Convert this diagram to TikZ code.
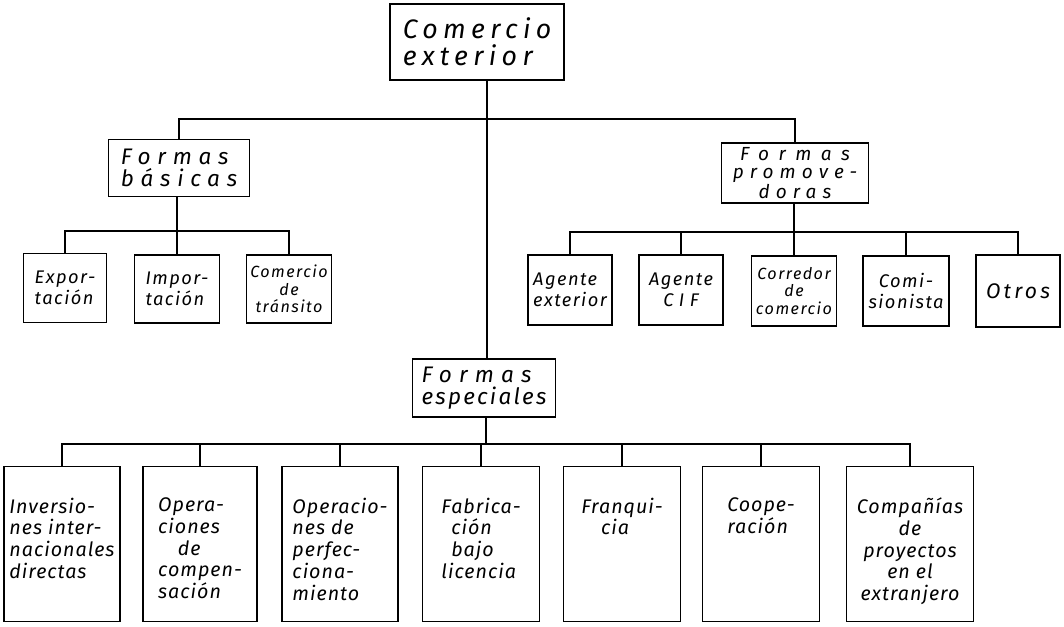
\documentclass[tikz,border=0pt]{standalone}
\usepackage{fontspec}
\setmainfont{Fira Sans}
\usetikzlibrary{positioning}

\tikzset{
  caja/.style 2 args={draw, minimum width=#1*0.025cm, minimum height=#2*0.025cm, inner sep=1pt},
  titulo/.style={font=\itshape\fontsize{19}{19}\selectfont\addfontfeature{LetterSpace=20}, align=left},
  forma/.style={font=\itshape\fontsize{16}{16}\selectfont\addfontfeature{LetterSpace=30}, align=left},
  chico/.style={font=\itshape\fontsize{13}{15}\selectfont\addfontfeature{LetterSpace=8}, align=center},
  menudo/.style={font=\itshape\fontsize{11.5}{12.5}\selectfont\addfontfeature{LetterSpace=9}, align=center},
  texto/.style={font=\itshape\fontsize{14}{15.5}\selectfont\addfontfeature{LetterSpace=5}, align=left, inner sep=0pt},
}

\begin{document}
\begin{tikzpicture}[x=0.025cm, y=-0.025cm, line width=1.1pt]
    \useasboundingbox (0,0) rectangle (1064,626);

    % comercio exterior y sus tres formas
    \node[caja={174}{76}, titulo] (comercio) at (477,42) {Comercio\\exterior};
    \node[caja={141}{57}, forma] (basicas) at (179,168) {Formas\\básicas};
    \node[caja={147}{60}, forma, font=\itshape\fontsize{13.5}{13}\selectfont\addfontfeature{LetterSpace=32}, align=center] (promov) at (795,173)
      {{\addfontfeature{LetterSpace=50}Formas}\\promove-\\doras};
    \node[caja={143}{58}, forma, font=\itshape\fontsize{16}{16}\selectfont\addfontfeature{LetterSpace=10}] (especiales) at (484,388)
      {{\addfontfeature{LetterSpace=32}Formas}\\especiales};

    % formas basicas
    \node[caja={83}{69}, chico, align=left] (export) at (65,288) {Expor-\\tación};
    \node[caja={85}{68}, chico, align=left] (import) at (177,289) {Impor-\\tación};
    \node[caja={85}{68}, menudo] (transito) at (289,289) {Comercio\\de\\tránsito};

    % formas promovedoras
    \node[caja={84}{70}, chico, align=left] (agext) at (570,290) {Agente\\exterior};
    \node[caja={84}{70}, chico] (agcif) at (681,290) {Agente\\{\addfontfeature{LetterSpace=30}CIF}};
    \node[caja={85}{70}, menudo] (corredor) at (794,291) {Corredor\\de\\comercio};
    \node[caja={86}{70}, chico] (comis) at (906,291) {Comi-\\sionista};
    \node[caja={84}{72}, chico, font=\itshape\fontsize{15}{15}\selectfont\addfontfeature{LetterSpace=15}] (otros) at (1018,291) {Otros};

    % formas especiales
    \foreach \n/\x/\w in {inversiones/62/116, compens/200/114, perfec/340/116, fabric/481/117,
                          franq/622/117, coop/761/117, compan/910/127}
      \node[caja={\w}{155}] (\n) at (\x,544) {};

    \node[texto, below=0.78cm of inversiones.north] (inversionestxt) {Inversio-\\nes inter-\\nacionales\\directas};
    \node[texto, below=0.78cm of compens.north] (compenstxt) {Opera-\\ciones\\\quad de\\compen-\\sación};
    \node[texto, below=0.78cm of perfec.north] (perfectxt) {Operacio-\\nes de\\perfec-\\ciona-\\miento};
    \node[texto, below=0.78cm of fabric.north] (fabrictxt) {Fabrica-\\\enspace ción\\\enspace bajo\\licencia};
    \node[texto, below=0.78cm of franq.north] (franqtxt) {Franqui-\\\quad cia};
    \node[texto, below=0.78cm of coop.north] (cooptxt) {Coope-\\ración};
    \node[texto, below=0.78cm of compan.north, align=center] (compantxt) {Compañías\\de\\proyectos\\en el\\extranjero};

    % conectores
    \coordinate (tronco) at (487,119);
    \draw (comercio.south -| tronco) -- (especiales.north -| tronco);
    \draw (basicas.north) |- (tronco) -| (promov.north);

    \coordinate (barra1) at (177,231);
    \draw (basicas.south -| barra1) -- (barra1);
    \foreach \n in {export,import,transito}
      \draw (\n.north) |- (barra1);

    \coordinate (barra2) at (794,232);
    \draw (promov.south -| barra2) -- (barra2);
    \foreach \n in {agext,agcif,corredor,comis,otros}
      \draw (\n.north) |- (barra2);

    \coordinate (barra3) at (486,444);
    \draw (especiales.south -| barra3) -- (barra3);
    \foreach \n in {inversiones,compens,perfec,fabric,franq,coop,compan}
      \draw (\n.north) |- (barra3);
\end{tikzpicture}
\end{document}
